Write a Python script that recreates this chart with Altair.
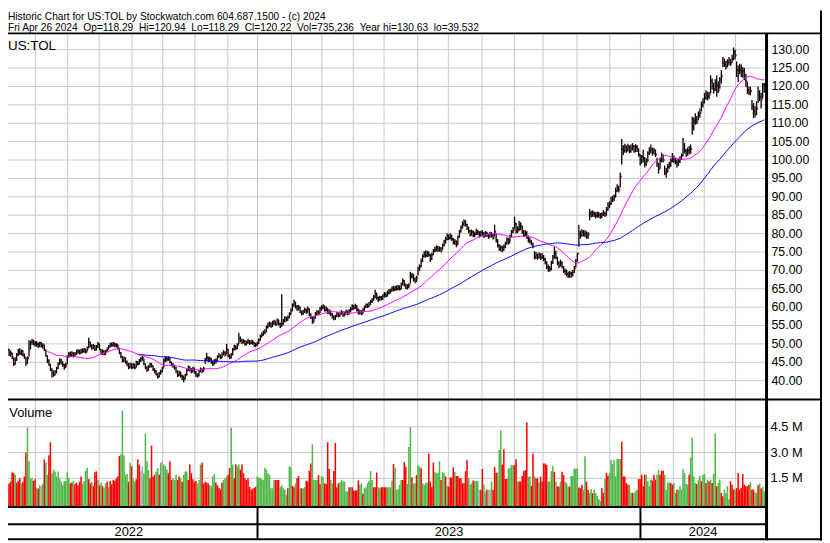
import altair as alt
import pandas as pd

# ---------------- data ----------------
TITLE_1 = "Historic Chart for US:TOL by Stockwatch.com 604.687.1500 - (c) 2024"
TITLE_2 = "Fri Apr 26 2024  Op=118.29  Hi=120.94  Lo=118.29  Cl=120.22  Vol=735,236  Year hi=130.63  lo=39.532"
SYMBOL = "US:TOL"
VOLUME_TITLE = "Volume"

CLOSE = [
    47.0, 47.6, 46.4, 49.0, 48.4, 47.1, 47.5, 46.3, 44.5, 45.6,
    47.0, 48.0, 47.4, 48.1, 47.0, 46.4, 44.8, 46.1, 48.6, 50.4,
    50.8, 50.0, 50.3, 49.9, 49.6, 50.2, 49.4, 49.8, 48.4, 46.8,
    45.4, 44.3, 43.0, 42.0, 41.6, 42.3, 43.4, 44.5, 45.5, 45.0,
    44.3, 43.8, 44.2, 46.5, 47.2, 47.0, 47.5, 46.8, 47.3, 47.8,
    48.0, 47.5, 48.2, 48.0, 48.5, 47.8, 48.8, 50.5, 49.5, 48.8,
    49.5, 48.5, 49.3, 50.0, 48.5, 47.5, 48.0, 47.2, 48.0, 48.6,
    49.3, 50.0, 49.6, 50.2, 49.5, 49.8, 48.8, 47.5, 46.5, 45.3,
    46.2, 45.0, 44.5, 43.6, 44.6, 43.6, 44.3, 43.5, 45.0, 44.5,
    45.5, 46.0, 46.2, 44.5, 43.5, 43.0, 43.8, 44.5, 44.0, 43.0,
    42.5, 41.8, 41.0, 42.0, 42.5, 43.4, 45.5, 46.0, 45.8, 46.2,
    45.0, 44.3, 44.0, 43.5, 42.5, 41.5, 42.3, 41.2, 40.8, 40.5,
    41.5, 42.8, 43.5, 43.0, 42.5, 43.4, 42.3, 41.5, 41.3, 42.5,
    43.0, 42.6, 43.3, 45.5, 46.3, 45.5, 46.0, 45.0, 44.6, 45.4,
    45.2, 46.5, 46.8, 46.2, 47.2, 47.6, 47.0, 48.5, 46.8, 46.3,
    47.0, 48.5, 49.2, 48.8, 49.6, 51.5, 51.0, 50.5, 50.8, 50.0,
    50.4, 50.8, 50.2, 50.6, 50.4, 49.6, 49.8, 50.2, 51.0, 52.0,
    52.5, 53.0, 53.3, 54.5, 55.0, 55.5, 54.8, 55.8, 56.0, 55.3,
    56.5, 55.5, 54.8, 55.5, 56.2, 57.0, 56.5, 57.2, 58.0, 59.0,
    60.5, 61.3, 60.0, 59.5, 60.0, 58.6, 58.2, 58.8, 59.2, 58.6,
    59.5, 58.0, 57.2, 55.8, 57.0, 58.2, 58.6, 58.4, 59.5, 59.8,
    60.3, 59.2, 59.6, 58.5, 58.9, 58.0, 57.3, 56.8, 57.5, 58.2,
    57.6, 58.3, 58.6, 57.8, 58.3, 58.8, 58.2, 59.0, 59.4, 60.3,
    59.8, 60.4, 59.2, 58.5, 58.8, 58.2, 59.3, 60.0, 60.6, 60.2,
    61.0, 61.5, 62.0, 62.6, 63.8, 62.5, 62.0, 62.6, 62.2, 63.0,
    63.5, 63.0, 64.0, 64.2, 64.5, 65.2, 64.8, 65.3, 65.0, 65.5,
    64.9, 66.2, 67.2, 66.0, 65.3, 65.6, 66.0, 68.3, 68.8, 67.5,
    67.0, 68.0, 70.5, 71.0, 72.5, 73.8, 74.5, 74.0, 74.8, 74.2,
    73.0, 74.3, 75.3, 75.6, 76.2, 75.5, 76.0, 75.4, 76.8, 77.6,
    78.5, 79.3, 78.8, 79.5, 78.5, 77.6, 77.9, 76.8, 79.0, 80.5,
    81.5, 82.6, 83.2, 82.4, 81.5, 80.8, 79.8, 80.5, 79.5, 79.9,
    80.6, 80.2, 79.5, 80.3, 80.0, 79.4, 80.2, 79.6, 79.2, 80.0,
    79.5, 78.8, 80.5, 78.2, 76.8, 75.6, 76.2, 75.5, 76.4, 77.2,
    78.4, 77.5, 79.2, 80.5, 81.0, 82.8, 80.5, 81.2, 81.5, 82.0,
    80.5, 79.6, 80.2, 79.0, 78.2, 77.8, 77.2, 76.5, 73.5, 74.2,
    73.5, 74.3, 73.5, 74.0, 73.0, 72.2, 71.0, 70.5, 70.2, 72.0,
    73.5, 75.0, 73.5, 72.0, 71.3, 72.2, 71.0, 69.8, 69.5, 69.0,
    68.5, 69.2, 68.6, 69.5, 70.5, 72.5, 74.5, 80.0, 79.5, 80.5,
    79.8, 80.2, 79.2, 79.8, 85.5, 85.0, 85.6, 85.2, 84.8, 85.3,
    85.0, 84.6, 85.2, 85.6, 85.0, 86.5, 87.5, 88.0, 89.2, 89.5,
    90.0, 91.5, 92.5, 92.0, 95.5, 103.0, 102.5, 103.5, 102.8, 103.6,
    102.4, 103.2, 103.8, 102.6, 103.5, 102.8, 101.5, 99.5, 100.8, 100.5,
    99.0, 99.5, 101.8, 102.5, 103.0, 102.0, 102.6, 101.5, 99.0, 97.5,
    99.8, 101.2, 100.0, 96.5, 96.8, 98.2, 98.5, 99.8, 100.5, 100.0,
    99.5, 99.0, 99.6, 100.5, 101.2, 104.0, 102.5, 101.5, 102.6, 102.0,
    103.0, 109.0, 110.5, 111.0, 110.5, 112.2, 112.8, 115.0, 115.6, 117.0,
    118.0, 117.3, 117.8, 121.5, 120.5, 119.2, 121.0, 120.2, 119.0, 121.8,
    122.8, 126.5, 126.0, 125.5, 126.6, 127.0, 126.2, 127.5, 129.2, 128.5,
    124.5, 123.5, 124.5, 123.8, 124.2, 123.2, 121.5, 119.0, 118.3, 118.8,
    114.5, 113.2, 112.5, 114.0, 118.5, 117.2, 116.5, 120.5, 120.22,
]

HIGH = [
    48.3, 48.5, 47.8, 51.0, 49.6, 48.6, 48.2, 47.6, 46.2, 46.4,
    47.5, 48.6, 48.8, 48.5, 48.3, 47.4, 46.3, 46.6, 51.0, 50.9,
    51.3, 51.1, 50.8, 50.7, 50.4, 50.6, 50.5, 50.2, 49.8, 48.5,
    46.9, 45.8, 44.6, 43.4, 42.8, 42.9, 43.8, 45.0, 46.1, 45.9,
    45.3, 44.6, 44.9, 46.9, 47.8, 47.9, 48.0, 47.7, 47.8, 48.4,
    48.6, 48.4, 48.7, 48.8, 48.9, 48.7, 49.3, 51.7, 50.6, 49.9,
    50.0, 49.6, 49.7, 50.5, 50.1, 48.7, 48.5, 48.2, 48.4, 49.0,
    49.7, 50.3, 50.4, 50.5, 50.3, 50.2, 49.9, 48.9, 47.8, 46.7,
    46.6, 46.3, 45.5, 44.8, 44.9, 44.7, 44.8, 44.6, 45.4, 45.3,
    45.9, 46.4, 46.7, 46.1, 44.7, 43.9, 44.2, 44.9, 44.8, 44.1,
    43.4, 42.9, 42.0, 42.4, 43.0, 43.8, 46.0, 46.6, 46.5, 46.7,
    46.3, 45.2, 44.8, 44.3, 43.7, 42.8, 42.7, 42.4, 41.7, 41.4,
    41.9, 43.2, 44.1, 43.9, 43.4, 43.8, 43.5, 42.6, 42.0, 42.9,
    43.6, 43.4, 43.8, 46.2, 47.6, 46.6, 46.5, 46.1, 45.4, 45.8,
    46.0, 46.9, 47.6, 47.1, 47.7, 48.3, 48.0, 50.0, 48.6, 47.2,
    47.5, 48.9, 49.8, 49.6, 50.2, 53.0, 52.0, 51.4, 51.3, 51.0,
    50.9, 51.4, 51.0, 51.1, 51.0, 50.5, 50.3, 50.6, 51.5, 52.5,
    53.1, 53.6, 54.0, 55.0, 55.8, 56.1, 55.9, 56.3, 56.6, 56.3,
    56.9, 56.6, 55.8, 63.5, 56.8, 57.5, 57.4, 57.7, 58.6, 59.6,
    61.0, 62.0, 61.4, 60.6, 60.6, 60.1, 59.1, 59.3, 59.8, 59.6,
    60.2, 59.6, 58.3, 57.4, 57.5, 58.7, 59.2, 59.1, 60.1, 60.5,
    60.8, 60.4, 60.2, 59.7, 59.4, 59.1, 58.3, 57.7, 57.9, 58.7,
    58.5, 58.8, 59.2, 58.9, 58.8, 59.3, 59.1, 59.4, 60.0, 60.8,
    60.6, 60.9, 60.5, 59.6, 59.3, 59.1, 59.7, 60.4, 61.0, 61.0,
    61.4, 62.0, 62.5, 63.3, 64.7, 63.9, 62.9, 63.1, 63.0, 63.5,
    64.1, 64.0, 64.5, 64.9, 65.0, 65.6, 65.7, 65.8, 65.9, 66.0,
    65.9, 66.7, 67.8, 67.4, 66.4, 66.2, 66.5, 69.6, 69.3, 69.0,
    68.1, 68.5, 71.0, 71.6, 73.2, 74.4, 75.2, 75.4, 75.3, 75.1,
    74.5, 74.8, 75.8, 76.4, 76.8, 76.6, 76.5, 76.3, 77.3, 78.3,
    79.1, 80.0, 79.8, 80.0, 79.7, 78.8, 78.5, 78.1, 79.5, 81.0,
    82.2, 83.3, 83.9, 83.6, 82.7, 81.9, 81.0, 81.1, 80.8, 80.5,
    81.3, 81.0, 80.6, 80.8, 80.9, 80.4, 80.7, 80.5, 80.0, 80.5,
    80.4, 79.9, 82.4, 80.0, 78.5, 77.0, 76.8, 76.6, 77.0, 77.8,
    79.0, 78.8, 79.7, 81.0, 81.8, 84.6, 82.9, 82.0, 83.5, 83.1,
    82.2, 81.0, 80.9, 80.6, 79.5, 78.9, 78.3, 77.6, 75.2, 75.0,
    74.6, 74.9, 74.6, 74.7, 74.2, 73.4, 72.5, 71.6, 71.2, 72.6,
    74.2, 76.4, 75.3, 73.7, 72.5, 72.9, 72.4, 71.2, 70.5, 70.2,
    69.6, 69.8, 69.6, 70.1, 71.2, 73.1, 74.8, 82.4, 80.8, 81.2,
    81.0, 80.9, 80.6, 80.4, 86.7, 86.2, 86.3, 86.0, 85.8, 86.0,
    85.9, 85.6, 85.8, 86.4, 86.0, 87.2, 88.5, 88.8, 90.0, 90.3,
    90.6, 92.5, 93.4, 93.0, 96.6, 105.7, 104.0, 104.4, 104.0, 104.4,
    104.0, 104.2, 104.6, 104.0, 104.3, 104.1, 103.2, 101.6, 101.4, 102.8,
    100.8, 100.4, 102.4, 103.5, 104.2, 103.4, 103.3, 102.9, 100.6, 99.2,
    100.6, 102.0, 101.5, 98.5, 97.9, 98.9, 99.5, 100.4, 101.9, 101.2,
    100.6, 100.2, 100.4, 101.0, 101.8, 106.0, 104.6, 103.0, 103.4, 103.8,
    104.2, 111.8, 111.6, 112.7, 112.0, 113.2, 114.0, 115.9, 116.8, 118.2,
    119.0, 118.6, 118.5, 123.0, 122.2, 121.0, 122.0, 123.0, 121.4, 122.6,
    124.4, 128.0, 127.6, 127.0, 127.4, 128.0, 127.5, 128.6, 130.63, 130.0,
    126.8, 125.7, 126.2, 126.0, 125.3, 125.0, 123.4, 121.2, 120.0, 119.9,
    116.3, 115.5, 114.6, 116.0, 119.9, 119.0, 118.2, 121.0, 120.94,
]

LOW = [
    46.4, 46.6, 45.9, 47.0, 47.6, 46.7, 46.5, 45.8, 44.0, 44.3,
    45.4, 46.8, 47.0, 46.9, 46.6, 45.9, 44.0, 44.5, 46.5, 48.6,
    49.8, 49.6, 49.3, 49.2, 48.9, 49.1, 49.0, 48.7, 48.1, 46.5,
    44.8, 44.0, 42.6, 40.8, 41.1, 41.4, 42.0, 43.2, 44.3, 44.4,
    43.8, 43.0, 43.4, 44.5, 46.2, 46.5, 46.6, 46.3, 46.5, 47.0,
    47.3, 47.1, 47.3, 47.5, 47.6, 47.4, 47.9, 48.9, 49.0, 48.4,
    48.6, 48.1, 48.2, 48.9, 48.2, 47.1, 47.0, 46.9, 47.0, 47.7,
    48.4, 49.0, 49.2, 49.3, 49.1, 49.0, 48.5, 47.2, 46.1, 45.0,
    45.1, 44.6, 43.9, 43.1, 43.4, 43.2, 43.3, 43.1, 43.6, 44.1,
    44.3, 45.1, 45.4, 44.2, 43.1, 42.4, 42.7, 43.5, 43.6, 42.6,
    42.0, 41.4, 40.6, 40.9, 41.6, 42.2, 43.6, 45.1, 45.2, 45.4,
    44.7, 43.9, 43.5, 43.0, 42.1, 41.0, 41.2, 40.8, 40.2, 39.53,
    40.3, 41.4, 42.6, 42.5, 42.0, 42.3, 41.9, 41.0, 40.8, 41.2,
    42.3, 42.1, 42.4, 44.5, 45.4, 45.0, 45.1, 44.6, 44.0, 44.3,
    44.7, 45.3, 46.2, 45.8, 46.1, 46.9, 46.6, 47.2, 46.4, 45.8,
    46.0, 47.0, 48.3, 48.3, 48.6, 49.9, 50.4, 50.0, 50.1, 49.5,
    49.6, 50.0, 49.7, 49.9, 49.8, 49.2, 49.1, 49.4, 50.0, 50.9,
    51.8, 52.2, 52.6, 53.2, 54.2, 54.6, 54.4, 54.6, 55.2, 54.9,
    55.3, 55.0, 54.3, 54.6, 55.1, 55.9, 56.0, 56.3, 57.0, 57.9,
    58.9, 60.1, 59.6, 59.0, 59.1, 58.3, 57.7, 57.9, 58.4, 58.2,
    58.5, 57.6, 56.8, 55.5, 55.9, 56.9, 57.8, 57.9, 58.3, 59.0,
    59.4, 58.8, 58.8, 58.1, 58.0, 57.6, 56.9, 56.4, 56.6, 57.3,
    57.2, 57.4, 57.9, 57.4, 57.5, 57.9, 57.8, 58.0, 58.6, 59.2,
    59.3, 59.5, 58.8, 58.0, 58.0, 57.8, 58.2, 59.0, 59.7, 59.8,
    60.0, 60.6, 61.1, 61.7, 62.4, 62.0, 61.4, 61.7, 61.8, 62.0,
    62.6, 62.6, 62.9, 63.4, 63.7, 64.2, 64.3, 64.4, 64.5, 64.6,
    64.5, 64.8, 65.9, 65.6, 64.9, 64.8, 65.1, 66.4, 67.8, 67.0,
    66.5, 66.9, 68.6, 69.8, 70.9, 72.3, 73.5, 73.5, 73.6, 73.7,
    72.3, 72.8, 74.1, 74.9, 75.1, 75.0, 75.1, 74.9, 75.6, 76.5,
    77.3, 78.2, 78.2, 78.4, 78.0, 77.1, 76.9, 76.3, 76.9, 78.9,
    80.3, 81.4, 82.0, 81.9, 81.0, 80.1, 79.2, 79.4, 79.0, 79.0,
    79.6, 79.6, 79.0, 79.2, 79.4, 78.8, 79.1, 79.1, 78.6, 78.9,
    78.9, 78.4, 79.2, 77.6, 76.2, 75.3, 75.2, 74.9, 75.3, 76.0,
    77.0, 77.0, 77.6, 79.0, 80.1, 81.2, 80.0, 80.2, 80.6, 80.9,
    79.9, 79.1, 79.2, 78.5, 77.6, 77.2, 76.8, 76.0, 73.0, 73.1,
    72.9, 73.2, 72.8, 73.1, 72.5, 71.6, 70.4, 69.6, 69.6, 70.0,
    71.8, 73.2, 73.0, 71.4, 70.6, 71.0, 70.5, 69.3, 68.8, 68.3,
    67.9, 68.0, 68.0, 68.4, 69.3, 70.8, 72.4, 76.4, 78.6, 79.2,
    79.2, 79.0, 78.6, 78.5, 83.6, 84.4, 84.6, 84.5, 84.1, 84.4,
    84.3, 84.0, 84.2, 84.8, 84.5, 84.9, 86.2, 86.9, 87.8, 88.5,
    88.8, 89.8, 91.4, 91.2, 92.5, 98.8, 101.4, 102.0, 102.0, 102.3,
    101.8, 102.0, 102.6, 102.0, 102.1, 102.2, 100.9, 98.6, 99.0, 99.3,
    98.0, 98.4, 99.6, 101.4, 101.8, 101.2, 101.5, 100.8, 98.2, 96.3,
    97.6, 99.4, 99.3, 95.9, 95.2, 96.6, 97.6, 98.2, 99.4, 99.2,
    98.8, 97.9, 98.4, 99.2, 100.0, 101.0, 101.8, 100.8, 101.2, 101.5,
    101.8, 106.9, 108.0, 109.6, 109.7, 110.9, 111.5, 113.2, 114.3, 115.4,
    116.4, 116.2, 116.6, 118.1, 119.2, 118.1, 118.8, 117.2, 118.2, 119.4,
    120.8, 125.3, 125.3, 124.6, 125.2, 125.8, 125.6, 126.4, 127.1, 127.4,
    122.6, 121.2, 123.4, 122.6, 122.4, 121.7, 119.9, 118.0, 117.7, 117.6,
    113.6, 111.4, 111.6, 112.2, 115.5, 116.0, 114.0, 116.8, 118.29,
]

# daily volume, millions of shares
VOLUME = [
    1.2, 1.25, 1.3, 1.3, 1.15, 1.2, 1.3, 1.85, 1.8, 1.7,
    1.25, 1.35, 1.5, 1.2, 1.3, 1.6, 3.0, 4.45, 2.5, 1.5,
    1.5, 1.35, 1.45, 0.95, 0.9, 1.1, 1.05, 1.2, 2.6, 2.4,
    1.7, 2.85, 3.6, 1.8, 2.0, 1.9, 1.6, 1.9, 1.5, 1.3,
    1.1, 1.35, 1.35, 1.85, 1.5, 1.2, 1.25, 1.35, 1.15, 1.25,
    1.1, 1.3, 1.6, 1.2, 1.35, 1.95, 2.1, 1.45, 1.2, 1.3,
    1.05, 1.85, 1.9, 1.4, 1.1, 1.25, 1.05, 0.95, 1.2, 1.3,
    1.0, 1.35, 1.15, 1.4, 1.35, 1.5, 1.6, 2.8, 2.9, 5.45,
    2.85, 1.7, 1.75, 1.3, 2.4, 2.2, 1.5, 1.3, 1.45, 2.6,
    2.3, 1.9, 2.2, 1.8, 4.1, 2.5, 2.0, 1.5, 3.4, 1.6,
    1.7, 1.9, 2.1, 1.7, 2.4, 2.5, 2.3, 2.2, 2.0, 1.8,
    2.5, 1.4, 1.5, 1.4, 1.7, 1.4, 1.6, 1.5, 1.3, 1.7,
    1.9, 1.9, 1.4, 2.3, 1.8, 1.45, 1.3, 1.35, 1.2, 1.4,
    2.3, 2.4, 1.2, 1.3, 1.25, 1.2, 1.1, 1.05, 1.6, 1.75,
    1.25, 1.1, 0.95, 0.85, 1.25, 1.4, 1.5, 1.6, 1.7, 2.1,
    4.45, 2.3, 1.5, 2.3, 2.2, 2.3, 2.0, 2.3, 1.8, 1.5,
    1.4, 1.5, 1.0, 0.85, 0.9, 0.95, 1.0, 1.6, 1.55, 1.5,
    1.45, 1.4, 2.1, 2.0, 1.8, 1.7, 0.92, 0.92, 1.4, 1.4,
    1.4, 1.4, 1.0, 1.1, 0.92, 0.83, 0.54, 0.92, 2.2, 2.15,
    1.06, 0.98, 1.2, 1.5, 1.63, 0.92, 0.92, 0.92, 1.0, 1.35,
    1.3, 1.94, 2.36, 3.48, 1.4, 1.4, 1.4, 1.69, 1.17, 1.63,
    1.56, 1.21, 1.17, 3.6, 2.04, 1.4, 1.21, 1.92, 3.56, 0.98,
    1.21, 1.25, 1.4, 1.31, 1.31, 0.73, 0.73, 0.98, 0.98, 0.98,
    0.79, 0.79, 0.79, 1.37, 1.12, 1.21, 0.6, 0.92, 0.98, 1.21,
    1.35, 1.92, 1.4, 0.98, 0.98, 1.83, 0.98, 0.92, 0.98, 0.98,
    0.98, 0.98, 0.98, 0.98, 0.98, 1.37, 2.33, 2.08, 0.83, 0.87,
    1.12, 1.4, 1.4, 2.44, 2.17, 1.17, 3.32, 4.48, 1.54, 1.21,
    1.21, 1.69, 2.27, 2.17, 2.08, 1.21, 1.12, 1.25, 1.25, 2.94,
    1.31, 0.98, 2.42, 1.88, 1.79, 1.83, 2.5, 1.4, 1.88, 1.79,
    1.6, 1.06, 1.02, 1.54, 1.54, 2.14, 1.88, 1.63, 1.63, 1.5,
    1.5, 1.21, 1.21, 1.92, 2.56, 1.5, 1.12, 1.21, 1.37, 1.35,
    1.35, 1.35, 0.83, 0.83, 2.04, 1.12, 0.73, 0.83, 0.83, 0.83,
    1.31, 0.83, 2.17, 1.83, 1.83, 3.13, 4.29, 2.3, 3.19, 1.46,
    1.46, 2.08, 2.08, 2.27, 2.27, 2.27, 2.61, 1.31, 1.31, 1.31,
    1.63, 1.92, 1.98, 4.75, 1.6, 1.6, 1.06, 2.94, 1.63, 1.5,
    1.5, 1.25, 1.6, 1.31, 2.36, 2.36, 2.27, 1.31, 1.31, 1.92,
    2.21, 1.88, 1.31, 1.02, 1.02, 1.31, 1.88, 1.69, 1.31, 1.21,
    1.02, 1.02, 1.63, 1.63, 2.08, 2.04, 2.08, 0.96, 0.92, 1.12,
    0.83, 2.79, 1.31, 0.83, 0.64, 0.87, 0.64, 0.84, 0.65, 0.46,
    0.3, 0.17, 0.94, 0.65, 1.46, 1.81, 1.65, 1.81, 2.57, 2.32,
    2.57, 1.61, 2.62, 2.62, 2.62, 3.63, 1.61, 1.61, 1.23, 1.13,
    1.13, 0.65, 0.65, 0.65, 0.75, 0.84, 1.46, 1.46, 1.71, 1.04,
    1.71, 1.71, 1.33, 1.04, 1.42, 1.36, 1.71, 1.42, 1.71, 2.0,
    1.71, 1.94, 1.94, 1.71, 0.84, 1.27, 1.23, 1.23, 1.13, 1.23,
    0.65, 0.84, 0.84, 1.04, 0.84, 2.04, 1.81, 1.17, 1.13, 1.71,
    2.71, 3.87, 1.61, 1.23, 1.17, 1.42, 1.65, 1.33, 1.71, 1.75,
    1.23, 1.42, 1.33, 1.42, 1.23, 1.77, 4.12, 1.04, 1.23, 1.42,
    0.65, 0.46, 0.84, 0.65, 1.04, 0.27, 1.33, 1.13, 0.84, 0.84,
    0.94, 1.81, 0.84, 0.94, 1.75, 1.13, 1.04, 1.04, 1.13, 1.27,
    0.84, 0.84, 0.69, 0.65, 1.1, 1.2, 0.9, 1.0, 0.74,
]

# G = up day, R = down day, Y = unchanged
VOL_COLOR = list(
    "YGRRRRRRRG" "RRRGRRRGGG" "GRRGRGYGRG" "GRRGGGGGGG" "GGGGGRRGRR"
    "RRRGGGGRRG" "RRRGRGRGGR" "GRRRRRRRGG" "GGGRGRGGRR" "RYYGGGGRRR"
    "RGGRGYGGGR" "RRGGGRRGRG" "GGRRRRRRGG" "GRRRRRGGGG" "RRRRRGGGRR"
    "GGRRGGRRRR" "RRRRRRRGGG" "GGGGGGGGGR" "RRGGGGGRGG" "RRGRRGRGGR"
    "RRRGGGGRRG" "GRRRRGGRRR" "RGGGGGGRGR" "RRRRGGRGGG" "GGGRRRGGRR"
    "RRGGGGRGGG" "GGRRRGGGRG" "GRGGRGGGGR" "RRRGGGGRGG" "RGRRRRGRRR"
    "RRRRRGGGRG" "GGYRRGGRYY" "GRRRGGGRRR" "RGGGGRRGRR" "RRRRGGRRGR"
    "RGRRRRRGGG" "GRGRRGRRGG" "GRGGGGGRRR" "GGRRGGRGGG" "GGRRGRRGGG"
    "GGGGGRRRRR" "GGRGGGRRRR" "RGGGGRRRGG" "RRRGGGGRRG" "GRGGGGGGGR"
    "GGGGRGGRGG" "RGRGRGGRGG" "RRGGGGRRRG" "RRRRRRRRRG" "RRGGRGRGG"
)

PRICE_TICKS = [40, 45, 50, 55, 60, 65, 70, 75, 80, 85, 90, 95, 100,
               105, 110, 115, 120, 125, 130]
VOL_TICKS = [1.5, 3.0, 4.5]
VOL_TICK_LABELS = ["1.5 M", "3.0 M", "4.5 M"]
# vertical grid lines, in bar-index units
GRID_BARS = [22.2, 43.3, 63.8, 85.3, 105.3, 126.3, 147.8, 167.2, 189.4,
             209.2, 229.7, 249.8, 271.8, 291.8, 313.8, 334.9, 353.6, 375.8,
             397.2, 417.2, 438.7, 458.8, 479.3]
YEARS = ["2022", "2023", "2024"]
YEAR_START = [-0.9, 167.2, 417.2]
YEAR_END = [167.2, 417.2, 498.9]

# ---------------- layout / style ----------------
W, H = 822, 535
FONT = "Arial, Liberation Sans"
GRID = "#c8c8c8"
GREEN, RED, GRAY = "#4fb848", "#ff0000", "#a8a8a8"
PANEL_R = 765

N = len(CLOSE)
df = pd.DataFrame({"i": list(range(N)), "high": HIGH, "low": LOW,
                   "close": CLOSE, "vol": VOLUME, "vc": VOL_COLOR})

XS = alt.Scale(domain=[0, 498], range=[-6.64, 763.65], nice=False, zero=False)
PS = alt.Scale(domain=[40, 130], range=[373.7, 39.5], nice=False, zero=False)
VS = alt.Scale(domain=[0, 4.5], range=[498.3, 420.3], nice=False, zero=False)

one = pd.DataFrame({"k": [0]})

layers = []

# grid
layers.append(
    alt.Chart(pd.DataFrame({"g": GRID_BARS})).mark_rule(color=GRID, strokeWidth=1)
    .encode(x=alt.X("g:Q", scale=XS, axis=None), y=alt.value(23), y2=alt.value(501))
)
layers.append(
    alt.Chart(pd.DataFrame({"p": PRICE_TICKS})).mark_rule(color=GRID, strokeWidth=1)
    .encode(x=alt.value(0), x2=alt.value(PANEL_R), y=alt.Y("p:Q", scale=PS, axis=None))
)
layers.append(
    alt.Chart(pd.DataFrame({"v": VOL_TICKS})).mark_rule(color=GRID, strokeWidth=1)
    .encode(x=alt.value(0), x2=alt.value(PANEL_R), y=alt.Y("v:Q", scale=VS, axis=None))
)

# volume bars
layers.append(
    alt.Chart(df).transform_calculate(x0="datum.i - 0.5", x1="datum.i + 0.5")
    .mark_rect(strokeWidth=0)
    .encode(
        x=alt.X("x0:Q", scale=XS, axis=None), x2="x1:Q",
        y=alt.Y("vol:Q", scale=VS, axis=None), y2=alt.value(501),
        color=alt.Color("vc:N", scale=alt.Scale(domain=["G", "R", "Y"],
                                                range=[GREEN, RED, GRAY]), legend=None),
    )
)

# close ticks (drawn first, so the next bar partly covers them)
layers.append(
    alt.Chart(df).transform_calculate(c0="datum.i + 0.25", c1="datum.i + 1.0",
                                      ct="datum.close + 0.27", cb="datum.close - 0.27")
    .mark_rect(color=RED, strokeWidth=0)
    .encode(x=alt.X("c0:Q", scale=XS, axis=None), x2="c1:Q",
            y=alt.Y("ct:Q", scale=PS, axis=None), y2="cb:Q")
)
# price bars (high-low)
layers.append(
    alt.Chart(df).mark_rule(color="black", strokeWidth=1.3)
    .encode(x=alt.X("i:Q", scale=XS, axis=None),
            y=alt.Y("low:Q", scale=PS, axis=None), y2="high:Q")
)

# moving averages
for period, col in [(30, "#ff00ff"), (90, "#0000ff")]:
    layers.append(
        alt.Chart(df)
        .transform_window(ma="mean(close)", n="count()", frame=[-(period - 1), 0],
                          sort=[alt.SortField("i")])
        .transform_filter(f"datum.n >= {period}")
        .mark_line(color=col, strokeWidth=1)
        .encode(x=alt.X("i:Q", scale=XS, axis=None),
                y=alt.Y("ma:Q", scale=PS, axis=None))
    )

# frame lines
def hline(y, x1, x2, w=2):
    return alt.Chart(one).mark_rule(color="black", strokeWidth=w).encode(
        x=alt.value(x1), x2=alt.value(x2), y=alt.value(y))

def vline(x, y1, y2, w=2):
    return alt.Chart(one).mark_rule(color="black", strokeWidth=w).encode(
        x=alt.value(x), y=alt.value(y1), y2=alt.value(y2))

layers += [
    hline(23, 0, W),
    hline(392.8, 0, W),
    hline(501.2, 0, PANEL_R),
    hline(518.8, 0, PANEL_R),
    hline(533.8, 0, W),
    vline(766, 23, 534.8, 3),
    vline(821, 0, H),
]
layers.append(
    alt.Chart(pd.DataFrame({"b": YEAR_START[1:]})).mark_rule(color="black", strokeWidth=2)
    .encode(x=alt.X("b:Q", scale=XS, axis=None), y=alt.value(501), y2=alt.value(534))
)

# texts
def label(text, x, y, size):
    return alt.Chart(pd.DataFrame({"t": [text]})).mark_text(
        align="left", baseline="alphabetic", fontSize=size, font=FONT, color="black"
    ).encode(x=alt.value(x), y=alt.value(y), text="t:N")

nb = lambda s: s.replace("  ", "\u00a0\u00a0")
layers += [
    label(nb(TITLE_1), 0, 9.2, 10.3),
    label(nb(TITLE_2), 0, 21.0, 10.3),
    label(SYMBOL, 0, 39.3, 13.5),
    label(VOLUME_TITLE, 1.3, 410, 13),
]
layers.append(
    alt.Chart(pd.DataFrame({"p": PRICE_TICKS})).mark_text(
        align="left", baseline="middle", fontSize=12.5, font=FONT, color="black")
    .encode(x=alt.value(771), y=alt.Y("p:Q", scale=PS, axis=None),
            text=alt.Text("p:Q", format=".2f"))
)
layers.append(
    alt.Chart(pd.DataFrame({"v": VOL_TICKS, "t": VOL_TICK_LABELS})).mark_text(
        align="left", baseline="middle", fontSize=13, font=FONT, color="black")
    .encode(x=alt.value(770), y=alt.Y("v:Q", scale=VS, axis=None), text="t:N")
)
layers.append(
    alt.Chart(pd.DataFrame({"year": YEARS, "s": YEAR_START, "e": YEAR_END}))
    .transform_calculate(mid="(datum.s + datum.e) / 2")
    .mark_text(align="center", baseline="alphabetic", fontSize=13, font=FONT, color="black")
    .encode(x=alt.X("mid:Q", scale=XS, axis=None), y=alt.value(531), text="year:N")
)

chart = (
    alt.layer(*layers)
    .resolve_scale(y="independent", color="independent")
    .properties(width=W, height=H, padding=0,
                autosize=alt.AutoSizeParams(type="none"))
    .configure(background="white")
    .configure_view(stroke=None)
)

chart.save("out.html", embed_options={"renderer": "svg", "actions": False})
